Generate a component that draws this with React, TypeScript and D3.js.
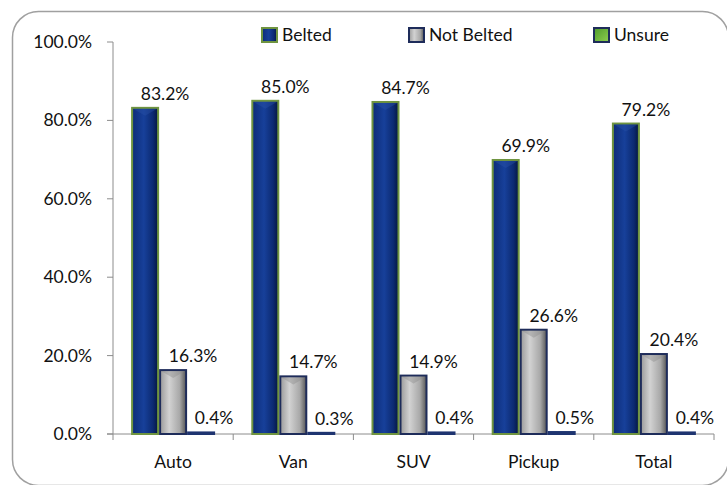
import React from "react";
import * as d3 from "d3";

const categories = ["Auto", "Van", "SUV", "Pickup", "Total"];
const belted = [83.2, 85.0, 84.7, 69.9, 79.2];
const notBelted = [16.3, 14.7, 14.9, 26.6, 20.4];
const unsure = [0.4, 0.3, 0.4, 0.5, 0.4];
const seriesNames = ["Belted", "Not Belted", "Unsure"];
const yTicks = [0, 20, 40, 60, 80, 100];

const W = 727;
const H = 485;
const plot = { left: 113, right: 714, top: 42, bottom: 434 };
const FONT = "Lato, 'Open Sans', sans-serif";

export default function App() {
  const x = d3.scaleBand<string>().domain(categories).range([plot.left, plot.right]);
  const y = d3.scaleLinear().domain([0, 100]).range([plot.bottom, plot.top]);
  const barW = 28;
  const series = [belted, notBelted, unsure];
  const fills = ["url(#gBelted)", "url(#gNot)", "url(#gUnsure)"];
  const strokes = ["#6f9440", "#1e2c5a", "#1e3470"];
  const labelDx = [20, 20, 13];
  const legendX = [261, 408, 593];

  return (
    <svg width={W} height={H} style={{ position: "absolute", left: 0, top: 0, background: "#fff" }} fontFamily={FONT}>
      <defs>
        <linearGradient id="gBelted" x1="0" x2="1" y1="0" y2="0">
          <stop offset="0" stopColor="#0d2c78" />
          <stop offset="0.45" stopColor="#17409a" />
          <stop offset="0.8" stopColor="#0c2a72" />
          <stop offset="1" stopColor="#05163f" />
        </linearGradient>
        <linearGradient id="gNot" x1="0" x2="1" y1="0" y2="0">
          <stop offset="0" stopColor="#9a9a9a" />
          <stop offset="0.35" stopColor="#d2d2d2" />
          <stop offset="0.75" stopColor="#a8a8a8" />
          <stop offset="1" stopColor="#555" />
        </linearGradient>
        <linearGradient id="gUnsure" x1="0" x2="1" y1="0" y2="0">
          <stop offset="0" stopColor="#1c3a85" />
          <stop offset="1" stopColor="#0c2260" />
        </linearGradient>
        <linearGradient id="gLegUnsure" x1="0" x2="1" y1="0" y2="1">
          <stop offset="0" stopColor="#4e9a2a" />
          <stop offset="1" stopColor="#8fd050" />
        </linearGradient>
      </defs>
      <rect x={12.5} y={11.5} width={716} height={474} rx={26} ry={26} fill="#fff" stroke="#a0a0a0" strokeWidth={1.5} />

      {/* Y axis */}
      <line x1={plot.left} x2={plot.left} y1={plot.top} y2={plot.bottom} stroke="#8c8c8c" />
      {yTicks.map((t) => (
        <g key={t}>
          <line x1={plot.left - 6} x2={plot.left} y1={y(t)} y2={y(t)} stroke="#8c8c8c" />
          <text x={92} y={y(t) + 6} textAnchor="end" fontSize={17.5} fill="#111">
            {t.toFixed(1) + "%"}
          </text>
        </g>
      ))}

      {/* X axis */}
      <line x1={plot.left - 6} x2={plot.right} y1={plot.bottom} y2={plot.bottom} stroke="#8c8c8c" />
      {[...categories.map((c) => x(c) as number), plot.right].map((px, i) => (
        <line key={i} x1={px} x2={px} y1={plot.bottom} y2={plot.bottom + 6} stroke="#8c8c8c" />
      ))}
      {categories.map((c) => (
        <text key={c} x={(x(c) as number) + x.bandwidth() / 2} y={468} textAnchor="middle" fontSize={17.5} fill="#111">
          {c}
        </text>
      ))}

      {/* Bars */}
      {categories.map((c, ci) => {
        const cx = (x(c) as number) + x.bandwidth() / 2;
        const start = cx - (barW * 3) / 2;
        return (
          <g key={c}>
            {series.map((s, si) => {
              const v = s[ci];
              const bx = start + si * barW;
              const top = y(v);
              const h = Math.max(plot.bottom - top, 1);
              return (
                <g key={si}>
                  <rect x={bx + 1} y={plot.bottom - h} width={barW - 2} height={h} fill={fills[si]} stroke={strokes[si]} strokeWidth={2} />
                  {h > 12 && (
                    <path
                      d={`M${bx + 2},${plot.bottom - h + 1} L${bx + barW - 2},${plot.bottom - h + 1} L${bx + barW / 2},${plot.bottom - h + 8} Z`}
                      fill={si === 0 ? "#2a52a8" : "#8a8a8a"}
                      opacity={0.4}
                    />
                  )}
                  <text x={bx + barW / 2 + labelDx[si]} y={top - 8} textAnchor="middle" fontSize={17.5} fill="#111">
                    {v.toFixed(1) + "%"}
                  </text>
                </g>
              );
            })}
          </g>
        );
      })}

      {/* Legend */}
      {seriesNames.map((n, i) => (
        <g key={n}>
          <rect x={legendX[i] + 1} y={28} width={15} height={14}
            fill={i === 0 ? "url(#gBelted)" : i === 1 ? "url(#gNot)" : "url(#gLegUnsure)"}
            stroke={i === 0 ? "#6f9440" : "#1e2c5a"} strokeWidth={2} />
          <text x={legendX[i] + 21} y={41} fontSize={17.5} fill="#111">{n}</text>
        </g>
      ))}
    </svg>
  );
}
